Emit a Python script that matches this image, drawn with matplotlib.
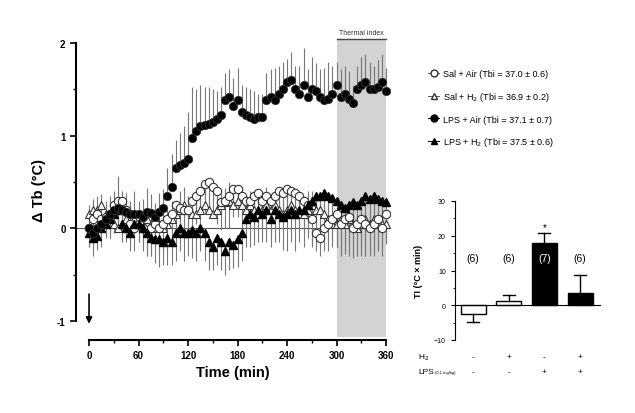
import numpy as np
import matplotlib.pyplot as plt
from matplotlib.lines import Line2D

plt.rcParams['font.family'] = ['Liberation Sans', 'DejaVu Sans']

# time course, 5 min steps, 0..360 min
time = np.arange(0, 361, 5)

sal_air = [0.0, 0.1, 0.15, 0.1, 0.12, 0.15, 0.25, 0.3, 0.3, 0.2, 0.05, 0.0, 0.05,
           0.0, -0.05, 0.0, 0.05, 0.0, 0.05, 0.1, 0.15, 0.25, 0.22, 0.2, 0.2, 0.3,
           0.35, 0.4, 0.48, 0.5, 0.45, 0.4, 0.28, 0.3, 0.35, 0.42, 0.42, 0.35, 0.3,
           0.3, 0.35, 0.38, 0.3, 0.35, 0.3, 0.35, 0.4, 0.38, 0.42, 0.4, 0.38, 0.35,
           0.3, 0.25, 0.1, -0.05, -0.1, 0.0, 0.05, 0.1, 0.15, 0.05, 0.1, 0.12, 0.0,
           0.05, 0.1, 0.05, 0.0, 0.05, 0.1, 0.0, 0.15]
sal_air_err = [0.2, 0.25, 0.2, 0.25, 0.2, 0.25, 0.3, 0.25, 0.3, 0.25, 0.2, 0.25, 0.2,
               0.25, 0.25, 0.3, 0.25, 0.3, 0.3, 0.35, 0.3, 0.3, 0.25, 0.3, 0.25, 0.3,
               0.3, 0.35, 0.3, 0.35, 0.3, 0.35, 0.3, 0.3, 0.35, 0.3, 0.3, 0.35, 0.3,
               0.3, 0.3, 0.35, 0.3, 0.3, 0.35, 0.3, 0.35, 0.3, 0.3, 0.35, 0.3, 0.3,
               0.35, 0.3, 0.3, 0.2, 0.2, 0.25, 0.3, 0.3, 0.35, 0.3, 0.35, 0.3, 0.3,
               0.35, 0.3, 0.35, 0.3, 0.3, 0.35, 0.3, 0.3]

sal_h2 = [0.15, 0.2, 0.2, 0.25, 0.15, 0.1, 0.05, 0.0, 0.05, 0.1, 0.05, 0.1, 0.05,
          0.05, 0.1, 0.05, 0.0, 0.05, 0.0, 0.05, 0.1, 0.15, 0.2, 0.25, 0.2, 0.15,
          0.15, 0.2, 0.25, 0.2, 0.15, 0.2, 0.25, 0.28, 0.3, 0.25, 0.3, 0.25, 0.2,
          0.25, 0.2, 0.15, 0.2, 0.25, 0.2, 0.25, 0.2, 0.15, 0.2, 0.25, 0.2, 0.15,
          0.15, 0.2, 0.25, 0.2, 0.2, 0.15, 0.1, 0.05, 0.05, 0.1, 0.05, 0.1, 0.05,
          0.0, 0.05, 0.1, 0.05, 0.1, 0.05, 0.05, 0.05]
sal_h2_err = [0.1, 0.12, 0.15, 0.12, 0.15, 0.2, 0.15, 0.25, 0.2, 0.15, 0.2, 0.15, 0.2,
              0.15, 0.15, 0.2, 0.15, 0.15, 0.2, 0.15, 0.2, 0.15, 0.2, 0.2, 0.15, 0.2,
              0.15, 0.2, 0.15, 0.2, 0.15, 0.2, 0.15, 0.15, 0.2, 0.15, 0.15, 0.2, 0.15,
              0.15, 0.2, 0.15, 0.15, 0.2, 0.15, 0.15, 0.2, 0.15, 0.15, 0.15, 0.2, 0.15,
              0.15, 0.2, 0.15, 0.15, 0.15, 0.2, 0.15, 0.15, 0.2, 0.15, 0.15, 0.2, 0.15,
              0.15, 0.2, 0.15, 0.15, 0.2, 0.15, 0.15, 0.15]

lps_air = [0.0, -0.05, 0.0, 0.05, 0.1, 0.15, 0.2, 0.22, 0.2, 0.18, 0.15, 0.15, 0.15,
           0.12, 0.18, 0.17, 0.12, 0.18, 0.22, 0.35, 0.45, 0.65, 0.68, 0.7, 0.75, 0.98,
           1.05, 1.1, 1.12, 1.13, 1.15, 1.18, 1.22, 1.38, 1.42, 1.32, 1.38, 1.25, 1.22,
           1.2, 1.18, 1.2, 1.2, 1.38, 1.42, 1.38, 1.45, 1.5, 1.58, 1.6, 1.5, 1.45,
           1.55, 1.42, 1.5, 1.48, 1.42, 1.38, 1.4, 1.45, 1.55, 1.42, 1.45, 1.4, 1.35,
           1.5, 1.55, 1.58, 1.5, 1.5, 1.52, 1.58, 1.48]
lps_air_err = [0.15, 0.2, 0.15, 0.2, 0.15, 0.2, 0.2, 0.35, 0.2, 0.2, 0.15, 0.25, 0.15,
               0.2, 0.25, 0.2, 0.15, 0.2, 0.2, 0.3, 0.35, 0.3, 0.35, 0.4, 0.5, 0.55,
               0.45, 0.45, 0.4, 0.4, 0.35, 0.3, 0.3, 0.3, 0.3, 0.3, 0.35, 0.3, 0.3,
               0.3, 0.3, 0.25, 0.25, 0.3, 0.3, 0.35, 0.3, 0.3, 0.25, 0.3, 0.25, 0.3,
               0.4, 0.3, 0.35, 0.3, 0.3, 0.35, 0.4, 0.3, 0.25, 0.3, 0.3, 0.3, 0.2,
               0.25, 0.3, 0.3, 0.3, 0.25, 0.3, 0.3, 0.25]

lps_h2 = [-0.05, -0.1, -0.08, 0.0, 0.05, 0.1, 0.15, 0.2, 0.05, 0.0, -0.05, 0.05, 0.05,
          0.0, -0.05, -0.1, -0.12, -0.12, -0.15, -0.1, -0.15, -0.05, 0.0, -0.05, -0.05,
          -0.02, -0.05, 0.0, -0.05, -0.15, -0.2, -0.1, -0.15, -0.25, -0.15, -0.18,
          -0.12, -0.05, 0.1, 0.15, 0.12, 0.2, 0.15, 0.2, 0.1, 0.2, 0.15, 0.12, 0.15,
          0.2, 0.15, 0.2, 0.2, 0.25, 0.3, 0.35, 0.35, 0.38, 0.35, 0.33, 0.3, 0.25,
          0.22, 0.25, 0.28, 0.25, 0.3, 0.35, 0.32, 0.35, 0.32, 0.3, 0.28]
lps_h2_err = [0.15, 0.2, 0.15, 0.2, 0.15, 0.2, 0.15, 0.2, 0.2, 0.15, 0.2, 0.15, 0.2,
              0.2, 0.25, 0.2, 0.25, 0.3, 0.25, 0.3, 0.25, 0.3, 0.25, 0.3, 0.25, 0.3,
              0.3, 0.25, 0.3, 0.3, 0.25, 0.3, 0.3, 0.25, 0.3, 0.25, 0.3, 0.3, 0.3,
              0.35, 0.3, 0.35, 0.3, 0.35, 0.3, 0.35, 0.3, 0.35, 0.4, 0.35, 0.4, 0.35,
              0.4, 0.35, 0.45, 0.5, 0.45, 0.5, 0.5, 0.45, 0.5, 0.55, 0.5, 0.55, 0.6,
              0.55, 0.6, 0.65, 0.6, 0.65, 0.55, 0.5, 0.45]

groups = ['Sal + Air', 'Sal + H$_2$', 'LPS + Air', 'LPS + H$_2$']
tbi = ['37.0 \u00b1 0.6', '36.9 \u00b1 0.2', '37.1 \u00b1 0.7', '37.5 \u00b1 0.6']

# thermal index inset
ti_mean = [-2.5, 1.3, 18.0, 3.5]
ti_err = [2.2, 1.6, 2.7, 5.3]
n_rats = ['(6)', '(6)', '(7)', '(6)']
h2_row = ['-', '+', '-', '+']
lps_row = ['-', '-', '+', '+']

fig = plt.figure(figsize=(6.35, 4.14), dpi=100)
ax = fig.add_axes([76/635, 1 - 341/414, (390 - 76)/635, (341 - 40)/414])
ax.set_xlim(-15.8, 364.8)
ax.set_ylim(-1.205, 2.043)

ax.axvspan(300, 360, ymin=0.01, ymax=1.0, color='#d3d3d3', lw=0, zorder=0)
ax.plot([300, 360], [2.04, 2.04], color='#444444', lw=1, clip_on=False)
ax.text(330, 2.08, 'Thermal index', ha='center', va='bottom', fontsize=5, color='#333333')
ax.axhline(0, color='#555555', lw=0.8, zorder=1)

err_col = '#777777'
ax.vlines(time, sal_air, np.array(sal_air) - np.array(sal_air_err), color=err_col, lw=0.8, zorder=2)
ax.vlines(time, sal_h2, np.array(sal_h2) + np.array(sal_h2_err), color=err_col, lw=0.8, zorder=2)
ax.vlines(time, lps_air, np.array(lps_air) + np.array(lps_air_err), color=err_col, lw=0.8, zorder=2)
ax.vlines(time, lps_h2, np.array(lps_h2) - np.array(lps_h2_err), color=err_col, lw=0.8, zorder=2)

ms = 6
ax.plot(time, sal_air, 'o', ms=ms, mfc='white', mec='#333333', mew=0.8, zorder=4)
ax.plot(time, sal_h2, '^', ms=ms, mfc='white', mec='#333333', mew=0.8, zorder=3)
ax.plot(time, lps_h2, '^', ms=ms, mfc='black', mec='black', zorder=5)
ax.plot(time, lps_air, 'o', ms=ms, mfc='black', mec='#333333', mew=0.6, zorder=6)

ax.annotate('', xy=(0, -1.06), xytext=(0, -0.68),
            arrowprops=dict(arrowstyle='-|>', color='black', lw=1.2, mutation_scale=9))

for s in ['top', 'right']:
    ax.spines[s].set_visible(False)
ax.spines['left'].set_bounds(-1, 2)
ax.spines['bottom'].set_bounds(0, 360)
for s in ['left', 'bottom']:
    ax.spines[s].set_linewidth(1.5)
ax.set_xticks(np.arange(0, 361, 60))
ax.set_xticks(np.arange(0, 361, 30), minor=True)
ax.set_yticks([-1, 0, 1, 2])
ax.set_yticks(np.arange(-1, 2.01, 0.5), minor=True)
ax.set_yticklabels(['-1', '0', '1', '2'])
ax.tick_params(which='major', length=4, width=1.2, labelsize=7)
ax.tick_params(which='minor', length=2.5, width=1)
for lab in ax.get_xticklabels() + ax.get_yticklabels():
    lab.set_fontweight('bold')
ax.set_xlabel('Time (min)', fontsize=10.5, fontweight='bold', labelpad=3)
ax.set_ylabel('\u0394 Tb (\u00b0C)', fontsize=10.5, fontweight='bold', labelpad=8)

# legend
handles = [
    Line2D([], [], marker='o', ls='-', color='#555555', lw=0.7, mfc='white', mec='#333333', ms=5),
    Line2D([], [], marker='^', ls='-', color='#555555', lw=0.7, mfc='white', mec='#333333', ms=5),
    Line2D([], [], marker='o', ls='-', color='black', lw=0.7, mfc='black', ms=5),
    Line2D([], [], marker='^', ls='-', color='black', lw=0.7, mfc='black', ms=5),
]
labels = ['%s (Tbi = %s)' % (g, t) for g, t in zip(groups, tbi)]
fig.legend(handles, labels, loc='upper left', bbox_to_anchor=(420/635, 1 - 62/414),
           frameon=False, fontsize=6.5, handlelength=1.2, handletextpad=0.5,
           labelspacing=1.3)

# inset bar chart
bx = fig.add_axes([455/635, 1 - 341/414, (600 - 455)/635, (341 - 202)/414])
idx = np.arange(len(ti_mean))
colors = ['white', 'white', 'black', 'black']
bx.bar(idx, ti_mean, width=0.7, color=colors, edgecolor='black', lw=1)
for i in idx:
    m = ti_mean[i]
    e = ti_err[i]
    end = m + e if m >= 0 else m - e
    bx.plot([i, i], [m, end], color='black', lw=1)
    bx.plot([i - 0.17, i + 0.17], [end, end], color='black', lw=1)
    bx.text(i, 13.5, n_rats[i], ha='center', va='center', fontsize=7.5,
            color='white' if i == 2 else 'black')
bx.text(2, 22.5, '*', ha='center', va='center', fontsize=7)
bx.set_xlim(-0.51, 3.56)
bx.set_ylim(-10, 30)
bx.spines['top'].set_visible(False)
bx.spines['right'].set_visible(False)
bx.spines['bottom'].set_position(('data', 0))
bx.set_xticks([])
bx.set_yticks([-10, 0, 10, 20, 30])
bx.set_yticks(np.arange(-10, 31, 5), minor=True)
bx.tick_params(which='major', length=3, labelsize=5)
bx.tick_params(which='minor', length=1.5)
bx.set_ylabel('TI (\u00b0C \u00d7 min)', fontsize=6.5, fontweight='bold', labelpad=8)

for i in idx:
    bx.text(i, -14.7, h2_row[i], ha='center', va='center', fontsize=6, clip_on=False)
    bx.text(i, -19.0, lps_row[i], ha='center', va='center', fontsize=6, clip_on=False)
bx.text(-1.55, -14.7, 'H$_2$', ha='left', va='center', fontsize=6, clip_on=False)
bx.text(-1.55, -19.0, 'LPS', ha='left', va='center', fontsize=6, clip_on=False)
bx.text(-1.08, -19.3, '(0.1 mg/kg)', ha='left', va='center', fontsize=3, clip_on=False)

fig.savefig('out.png', dpi=100)
